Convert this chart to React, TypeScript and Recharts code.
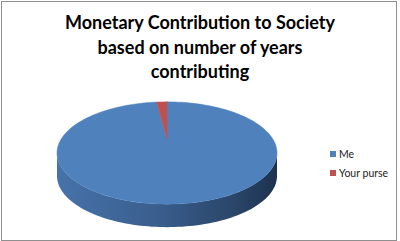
import React from 'react';
import { PieChart, Pie, Cell, Legend } from 'recharts';

const categories = ['Me', 'Your purse'];
const values = [98.5, 1.5];
const colors = ['#4F81BD', '#C0504D'];

const data = categories.map((name, i) => ({ name, value: values[i] }));

// fake 3D: squash the circle into an ellipse and add a wall below it
const TILT = 0.465;
const DEPTH = 23;
const APEX_LIFT = 14;

const pt = (cx: number, cy: number, rx: number, ry: number, deg: number) => {
  const r = (deg * Math.PI) / 180;
  return [cx + rx * Math.cos(r), cy - ry * Math.sin(r)];
};

const arcPoints = (cx: number, cy: number, rx: number, ry: number, a1: number, a2: number) => {
  const pts: number[][] = [];
  const steps = Math.max(2, Math.ceil(Math.abs(a2 - a1) / 2));
  for (let i = 0; i <= steps; i++) {
    pts.push(pt(cx, cy, rx, ry, a1 + ((a2 - a1) * i) / steps));
  }
  return pts;
};

const TopShape = (props: any) => {
  const { cx, cy, outerRadius, startAngle, endAngle, fill } = props;
  const rx = outerRadius;
  const ry = outerRadius * TILT;
  const lo = Math.min(startAngle, endAngle);
  const hi = Math.max(startAngle, endAngle);
  const pts = arcPoints(cx, cy, rx, ry, lo, hi);
  const d =
    `M${cx},${cy - APEX_LIFT} ` +
    pts.map((p) => `L${p[0].toFixed(2)},${p[1].toFixed(2)}`).join(' ') +
    ' Z';
  return <path d={d} fill={fill} stroke={fill} strokeWidth={0.5} />;
};

const SideShape = (props: any) => {
  const { cx, cy, outerRadius, startAngle, endAngle } = props;
  const rx = outerRadius;
  const ry = outerRadius * TILT;
  const lo = Math.min(startAngle, endAngle);
  const hi = Math.max(startAngle, endAngle);
  const fronts = [[-540, -360], [-180, 0], [180, 360]];
  const paths: string[] = [];
  fronts.forEach(([f1, f2]) => {
    const a1 = Math.max(lo, f1);
    const a2 = Math.min(hi, f2);
    if (a2 <= a1) return;
    const top = arcPoints(cx, cy, rx, ry, a1, a2);
    const bottom = arcPoints(cx, cy + DEPTH, rx, ry, a2, a1);
    const all = top.concat(bottom);
    paths.push(
      'M' + all.map((p) => `${p[0].toFixed(2)},${p[1].toFixed(2)}`).join(' L') + ' Z'
    );
  });
  return (
    <g>
      {paths.map((d, i) => (
        <path key={i} d={d} fill="url(#sideGrad)" />
      ))}
    </g>
  );
};

const renderLegend = (props: any) => {
  const seen: Record<string, boolean> = {};
  const items = (props.payload || []).filter((e: any) => {
    if (seen[e.value]) return false;
    seen[e.value] = true;
    return true;
  });
  return (
    <ul style={{ listStyle: 'none', margin: 0, padding: 0 }}>
      {items.map((entry: any, i: number) => (
        <li
          key={i}
          style={{ display: 'flex', alignItems: 'center', height: 19, fontSize: 10.5, color: '#222' }}
        >
          <span
            style={{ width: 6, height: 6, background: entry.color, marginRight: 3, display: 'inline-block' }}
          />
          {entry.value}
        </li>
      ))}
    </ul>
  );
};

export default function App() {
  return (
    <div
      style={{
        position: 'absolute',
        left: 0,
        top: 0,
        width: 400,
        height: 241,
        background: '#fff',
        fontFamily: 'Lato, "Noto Sans", sans-serif',
      }}
    >
      <style>{'body{margin:0}'}</style>
      <div
        style={{
          position: 'absolute',
          left: 1,
          top: 1,
          width: 396,
          height: 240,
          boxSizing: 'border-box',
          border: '1px solid #8f8f8f',
        }}
      />
      <div
        style={{
          position: 'absolute',
          left: 0,
          top: 10,
          width: 400,
          textAlign: 'center',
          fontWeight: 700,
          fontSize: 18,
          lineHeight: '24.5px',
          color: '#000',
        }}
      >
        Monetary Contribution to Society
        <br />
        based on number of years
        <br />
        contributing
      </div>
      <div style={{ position: 'absolute', left: 0, top: 0 }}>
        <PieChart width={400} height={241}>
          <defs>
            <linearGradient id="sideGrad" x1="0" y1="0" x2="1" y2="0">
              <stop offset="0" stopColor="#4673aa" />
              <stop offset="0.45" stopColor="#3a5e8e" />
              <stop offset="0.8" stopColor="#2a4669" />
              <stop offset="1" stopColor="#1e3250" />
            </linearGradient>
          </defs>
          <Pie
            data={data}
            dataKey="value"
            nameKey="name"
            cx={162}
            cy={148}
            outerRadius={110}
            startAngle={90}
            endAngle={-270}
            stroke="none"
            legendType="none"
            isAnimationActive={false}
            shape={SideShape}
            inactiveShape={SideShape}
            activeShape={SideShape}
          >
            {data.map((d, i) => (
              <Cell key={`s-${i}`} fill={colors[i]} />
            ))}
          </Pie>
          <Pie
            data={data}
            dataKey="value"
            nameKey="name"
            cx={162}
            cy={148}
            outerRadius={110}
            startAngle={90}
            endAngle={-270}
            stroke="none"
            isAnimationActive={false}
            shape={TopShape}
            inactiveShape={TopShape}
            activeShape={TopShape}
          >
            {data.map((d, i) => (
              <Cell key={`t-${i}`} fill={colors[i]} />
            ))}
          </Pie>
          <Legend
            layout="vertical"
            content={renderLegend}
            wrapperStyle={{ position: 'absolute', left: 330, top: 144, width: 70 }}
          />
        </PieChart>
      </div>
    </div>
  );
}
